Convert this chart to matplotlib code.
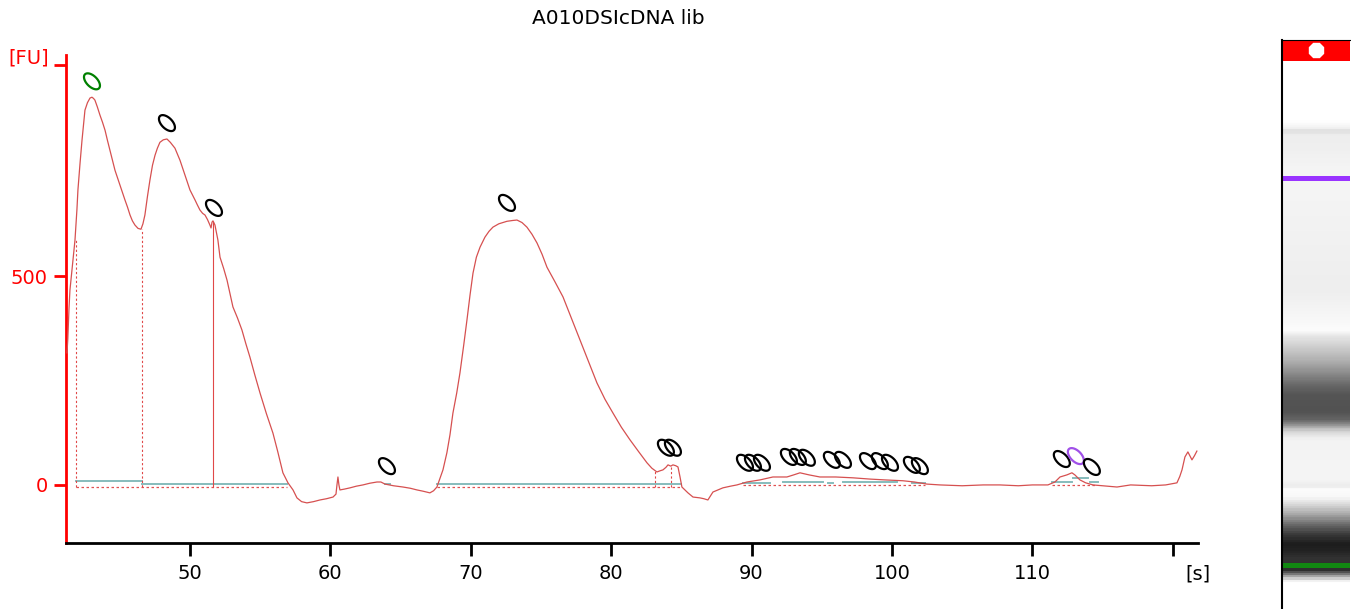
import matplotlib.pyplot as plt
import numpy as np
from matplotlib.path import Path
from matplotlib.colors import LinearSegmentedColormap

plt.rcParams['font.family'] = ['DejaVu Sans']

title = 'A010DSIcDNA lib'

# electropherogram trace: migration time [s] and fluorescence [FU]
time_s = [41.24, 41.30, 41.38, 41.45, 41.55, 41.66, 41.81, 41.95, 42.02, 42.17,
          42.31, 42.52, 42.70, 42.88, 43.02, 43.13, 43.23, 43.40, 43.59, 43.77,
          43.95, 44.12, 44.30, 44.48, 44.66, 44.84, 45.01, 45.19, 45.37, 45.55,
          45.73, 45.90, 46.08, 46.30, 46.51, 46.65, 46.79, 46.97, 47.15, 47.33,
          47.51, 47.68, 47.86, 48.10, 48.36, 48.60, 48.93, 49.10, 49.29, 49.46,
          49.64, 49.82, 50.00, 50.18, 50.36, 50.53, 50.71, 50.90, 51.07, 51.25,
          51.42, 51.50, 51.57, 51.64, 51.71, 51.78, 51.88, 51.99, 52.07, 52.14,
          52.40, 52.64, 52.85, 53.06, 53.38, 53.70, 53.98, 54.27, 54.63, 54.99,
          55.45, 55.91, 56.25, 56.62, 56.98, 57.34, 57.62, 57.95, 58.33, 58.80,
          59.26, 59.73, 60.19, 60.40, 60.47, 60.54, 60.61, 60.68, 61.00, 61.40,
          61.85, 62.32, 62.80, 63.32, 63.60, 63.89, 64.50, 65.17, 65.70, 66.17,
          66.60, 67.09, 67.35, 67.59, 67.85, 68.02, 68.30, 68.52, 68.73, 69.00,
          69.23, 69.50, 69.73, 69.95, 70.16, 70.40, 70.66, 71.01, 71.30, 71.58,
          72.00, 72.58, 73.00, 73.29, 73.65, 74.00, 74.36, 74.72, 75.08, 75.43,
          76.00, 76.57, 77.18, 77.78, 78.38, 78.99, 79.56, 80.13, 80.73, 81.34,
          81.95, 82.55, 82.90, 83.26, 83.50, 83.69, 83.90, 84.05, 84.25, 84.40,
          84.60, 84.76, 84.90, 85.04, 85.47, 85.83, 86.32, 86.60, 86.89, 87.25,
          87.60, 87.96, 88.50, 88.96, 89.67, 90.60, 91.52, 92.52, 93.00, 93.45,
          94.10, 94.87, 96.00, 97.22, 98.43, 99.50, 100.78, 101.60, 102.49, 103.42,
          105.00, 106.50, 107.69, 109.00, 110.00, 111.11, 111.61, 111.97, 112.46, 112.82,
          113.03, 113.39, 113.80, 114.32, 116.03, 117.00, 118.50, 119.50, 120.30, 120.50,
          120.66, 120.87, 121.08, 121.22, 121.37, 121.55, 121.72]
fu = [316, 350, 420, 466, 500, 540, 586, 660, 706, 770,
      825, 897, 915, 926, 928, 925, 921, 905, 885, 868,
      849, 825, 801, 778, 753, 735, 718, 700, 682, 665,
      646, 632, 622, 614, 612, 625, 646, 690, 730, 765,
      789, 806, 820, 826, 828, 820, 806, 792, 777, 760,
      742, 724, 706, 694, 682, 670, 658, 650, 646, 635,
      622, 615, 629, 632, 627, 622, 605, 586, 565, 545,
      518, 490, 458, 426, 400, 371, 338, 306, 262, 220,
      170, 124, 80, 29, 5, -12, -31, -40, -43, -40,
      -36, -33, -29, -22, 0, 19, 0, -12, -10, -7,
      -3, 0, 4, 7, 7, 2, -2, -5, -8, -12,
      -15, -19, -14, -5, 20, 36, 77, 120, 172, 220,
      268, 335, 395, 455, 507, 545, 569, 593, 607, 617,
      625, 631, 633, 634, 628, 617, 600, 579, 552, 521,
      486, 450, 398, 347, 295, 244, 205, 172, 138, 108,
      80, 53, 40, 31, 34, 36, 42, 48, 45, 48,
      46, 43, 20, -5, -19, -29, -31, -33, -36, -17,
      -12, -7, -3, 0, 7, 12, 19, 19, 24, 29,
      24, 19, 19, 17, 14, 12, 10, 7, 2, 0,
      -2, 0, 0, -2, 0, 0, 7, 19, 24, 29,
      24, 12, 5, 0, -5, 0, -2, 0, 5, 20,
      36, 67, 79, 70, 60, 70, 81]

# peak markers (time, FU, colour)
peak_t = [43.02, 48.36, 51.71, 64.03, 72.58, 83.90, 84.40,
          89.53, 90.10, 90.74, 92.66, 93.30, 93.94, 95.72, 96.51,
          98.29, 99.14, 99.86, 101.42, 101.99, 112.10, 113.10, 114.24]
peak_fu = [966, 866, 663, 45, 675, 89, 89,
           53, 53, 53, 67, 67, 65, 60, 60,
           57, 57, 53, 48, 45, 62, 69, 43]
peak_col = ['green', 'k', 'k', 'k', 'k', 'k', 'k',
            'k', 'k', 'k', 'k', 'k', 'k', 'k', 'k',
            'k', 'k', 'k', 'k', 'k', 'k', '#a050e8', 'k']

# peak boundary drop lines (time, top FU, style)
bound_t = [41.88, 46.58, 51.64, 83.12, 84.26]
bound_fu = [586, 612, 630, 33, 46]
bound_ls = [(0, (2, 2)), (0, (2, 2)), '-', (0, (2, 2)), (0, (2, 2))]

# integration baselines: start, end, level
teal_start = [41.88, 46.58, 63.89, 67.60, 89.39, 92.24, 95.44, 96.51, 101.42, 111.40, 112.89, 114.10]
teal_end = [46.58, 56.90, 64.25, 85.00, 91.31, 95.09, 95.80, 100.36, 102.35, 112.82, 113.96, 114.67]
teal_lvl = [10, 2, 2, 2, 5, 7, 5, 7, 5, 7, 17, 7]
red_start = [41.88, 67.60, 89.39, 111.40]
red_end = [56.90, 85.00, 102.35, 114.60]
red_lvl = [-4, -4, -1, -1]

# gel lane: pixel row -> grey level
gel_row = [40, 61, 120, 127, 130, 134, 150, 165, 185, 260, 290, 320, 330, 337,
           350, 363, 375, 385, 395, 412, 420, 426, 432, 440, 480, 488, 490, 498,
           506, 515, 525, 535, 545, 552, 560, 571, 575, 579, 583, 609]
gel_grey = [255, 255, 255, 242, 222, 238, 240, 244, 245, 240, 238, 248, 252, 228,
            200, 170, 135, 105, 85, 82, 100, 150, 215, 243, 245, 235, 252, 248,
            215, 170, 110, 60, 28, 35, 50, 45, 110, 190, 255, 255]

fig = plt.figure(figsize=(13.51, 6.09), dpi=100)
ax = fig.add_axes([66 / 1351, 66 / 609, 1132 / 1351, 488 / 609])

trace_col = '#d65050'
ax.plot(time_s, fu, color=trace_col, lw=0.9, zorder=5)

for s, e, l in zip(teal_start, teal_end, teal_lvl):
    ax.plot([s, e], [l, l], color='#86bcbc', lw=1.4, zorder=3)
for s, e, l in zip(red_start, red_end, red_lvl):
    ax.plot([s, e], [l, l], color='#e05050', lw=0.9, ls=(0, (2, 2)), zorder=3)
for t, top, ls in zip(bound_t, bound_fu, bound_ls):
    ax.plot([t, t], [-4, top], color='#e04848', lw=0.8, ls=ls, zorder=4)

# tilted ellipse marker
th = np.linspace(0, 2 * np.pi, 60)
ex, ey = 0.55 * np.cos(th), np.sin(th)
ang = np.deg2rad(45)
mx = ex * np.cos(ang) - ey * np.sin(ang)
my = ex * np.sin(ang) + ey * np.cos(ang)
ell = Path(np.column_stack([mx, my]), closed=True)
ax.scatter(peak_t, peak_fu, marker=ell, s=11.5 ** 2, facecolors='none',
           edgecolors=peak_col, linewidths=1.6, zorder=6)

ax.set_xlim(41.17, 121.8)
ax.set_ylim(-139, 1029)
ax.spines['top'].set_visible(False)
ax.spines['right'].set_visible(False)
ax.spines['left'].set_color('red')
ax.spines['left'].set_linewidth(2)
ax.spines['bottom'].set_color('black')
ax.spines['bottom'].set_linewidth(2)

ax.set_xticks([50, 60, 70, 80, 90, 100, 110, 120])
ax.set_xticklabels(['50', '60', '70', '80', '90', '100', '110', ''])
ax.set_yticks([0, 500, 1005])
ax.set_yticklabels(['0', '500', ''])
ax.tick_params(axis='x', length=9, width=2, color='black', labelsize=14, pad=6)
ax.tick_params(axis='y', length=9, width=2, color='red', labelcolor='red',
               labelsize=14, pad=4)
ax.text(-0.033, 0.994, '[FU]', transform=ax.transAxes, color='red',
        fontsize=14, ha='center', va='center')
ax.text(1.0, -0.064, '[s]', transform=ax.transAxes, color='black',
        fontsize=14, ha='center', va='center')

fig.text(618 / 1351, 1 - 19 / 609, title, fontsize=14.5, ha='center', va='center')

# gel lane
gax = fig.add_axes([1282 / 1351, 0, 68 / 1351, 569 / 609])
pos = [(r - gel_row[0]) / (gel_row[-1] - gel_row[0]) for r in gel_row]
gel_cmap = LinearSegmentedColormap.from_list(
    'gel', [(p, (g / 255, g / 255, g / 255)) for p, g in zip(pos, gel_grey)])
rows = np.arange(gel_row[0], gel_row[-1] + 1)
gax.imshow(rows[:, None], cmap=gel_cmap, aspect='auto', vmin=gel_row[0],
           vmax=gel_row[-1], extent=(0, 1, gel_row[-1], gel_row[0]),
           interpolation='bilinear')
gax.axhspan(40, 61, color='#ff0000', lw=0)
gax.axhspan(176, 181, color='#9933ff', lw=0)
gax.axhspan(563, 568, color='#118811', lw=0)
gax.plot([0.5], [50.5], marker='8', ms=11, color='white', mec='white')
gax.set_xlim(0, 1)
gax.set_ylim(gel_row[-1], gel_row[0])
gax.set_xticks([])
gax.set_yticks([])
for side in ['right', 'bottom']:
    gax.spines[side].set_visible(False)
gax.spines['left'].set_linewidth(1.5)
gax.spines['top'].set_linewidth(0.8)

fig.savefig('out.png', dpi=100)
